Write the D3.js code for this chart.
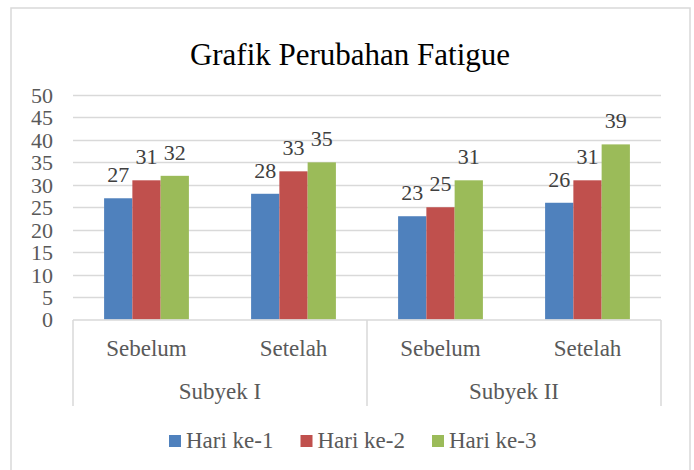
<!DOCTYPE html>
<html>
<head>
<meta charset="utf-8">
<script src="https://cdn.jsdelivr.net/npm/d3@7"></script>
</head>
<body style="margin:0">
<svg id="chart" width="694" height="470" font-family="Liberation Serif"></svg>
<script>
const groups = ["Subyek I", "Subyek II"];
const categories = ["Subyek I|Sebelum", "Subyek I|Setelah", "Subyek II|Sebelum", "Subyek II|Setelah"];
const seriesNames = ["Hari ke-1", "Hari ke-2", "Hari ke-3"];
const hari1 = [27, 28, 23, 26];
const hari2 = [31, 33, 25, 31];
const hari3 = [32, 35, 31, 39];
const yTicks = [0, 5, 10, 15, 20, 25, 30, 35, 40, 45, 50];
const colors = ["#4F81BD", "#C0504D", "#9BBB59"];
const seriesValues = [hari1, hari2, hari3];

const FONT = "'Liberation Serif'";
const svg = d3.select("#chart");
const plotLeft = 73, plotRight = 661, plotTop = 95, plotBottom = 319.5;

function tx(sel, size, fill) {
  return sel.style("font-family", FONT).attr("font-family", "Liberation Serif")
    .attr("font-size", size).attr("fill", fill);
}

svg.append("rect").attr("x", 11).attr("y", 8).attr("width", 679).attr("height", 480)
  .attr("fill", "#fff").attr("stroke", "#d9d9d9").attr("stroke-width", 1.5);

const y = d3.scaleLinear().domain([0, 50]).range([plotBottom, plotTop]);
const x0 = d3.scaleBand().domain(categories).range([plotLeft, plotRight]).paddingInner(0).paddingOuter(0);
const x1 = d3.scaleBand().domain(seriesNames).range([0, x0.bandwidth()]).paddingInner(0).paddingOuter(1.1);

svg.append("g").selectAll("line").data(yTicks.filter(d => d > 0)).join("line")
  .attr("x1", plotLeft).attr("x2", plotRight)
  .attr("y1", d => Math.round(y(d)) + 0.5).attr("y2", d => Math.round(y(d)) + 0.5)
  .attr("stroke", "#d9d9d9").attr("stroke-width", 1.5);

const yAxis = d3.axisLeft(y).tickValues(yTicks).tickSize(0).tickPadding(0);
const gy = svg.append("g").attr("transform", `translate(${plotLeft - 20},0)`).call(yAxis)
  .attr("font-family", "Liberation Serif").attr("font-size", 22);
gy.select(".domain").remove();
tx(gy.selectAll("text"), 22, "#595959").attr("dy", "0.34em");

const gBars = svg.append("g");
seriesNames.forEach((s, si) => {
  gBars.append("g").selectAll("rect").data(seriesValues[si]).join("rect")
    .attr("x", (d, i) => x0(categories[i]) + x1(s))
    .attr("y", d => y(d))
    .attr("width", x1.bandwidth())
    .attr("height", d => y(0) - y(d))
    .attr("fill", colors[si]);
});

seriesNames.forEach((s, si) => {
  tx(svg.append("g").selectAll("text").data(seriesValues[si]).join("text"), 22, "#404040")
    .attr("x", (d, i) => x0(categories[i]) + x1(s) + x1.bandwidth() / 2)
    .attr("y", d => y(d) - 16)
    .attr("text-anchor", "middle")
    .text(d => d);
});

const axisG = svg.append("g").attr("stroke", "#d9d9d9").attr("stroke-width", 1.5);
axisG.append("line").attr("x1", plotLeft).attr("x2", plotRight).attr("y1", 320).attr("y2", 320);
[plotLeft, x0(categories[2]), plotRight].forEach(xv => {
  axisG.append("line").attr("x1", xv).attr("x2", xv).attr("y1", 320).attr("y2", 406);
});

tx(svg.append("g").selectAll("text").data(categories).join("text"), 23, "#595959")
  .attr("x", d => x0(d) + x0.bandwidth() / 2)
  .attr("y", 356)
  .attr("text-anchor", "middle")
  .text(d => d.split("|")[1]);

tx(svg.append("g").selectAll("text").data(groups).join("text"), 23, "#595959")
  .attr("x", (g, gi) => (x0(categories[gi * 2]) + x0(categories[gi * 2 + 1]) + x0.bandwidth()) / 2)
  .attr("y", 399)
  .attr("text-anchor", "middle")
  .text(d => d);

svg.append("rect").attr("x", 167).attr("y", 30).attr("width", 406).attr("height", 64)
  .attr("fill", "#fff").attr("opacity", 0.9);
tx(svg.append("text"), 31, "#000").attr("x", 350).attr("y", 65).attr("text-anchor", "middle")
  .text("Grafik Perubahan Fatigue");

const leg = svg.append("g");
let lx = 169;
seriesNames.forEach((s, si) => {
  leg.append("rect").attr("x", lx).attr("y", 435).attr("width", 12).attr("height", 12).attr("fill", colors[si]);
  const t = tx(leg.append("text"), 23, "#595959").attr("x", lx + 17).attr("y", 448).text(s);
  lx += 17 + t.node().getComputedTextLength() + 27;
});
</script>
</body>
</html>
